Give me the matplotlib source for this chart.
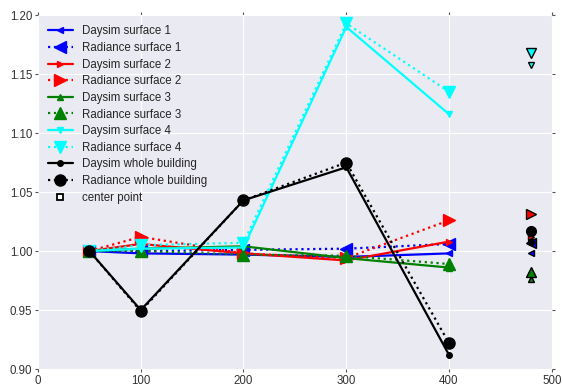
import matplotlib
matplotlib.use("Agg")
import matplotlib.pyplot as plt

# ── Data ──
X = [50, 100, 200, 300, 400]
CENTER_X = 480

daysim_s1 = [1.000, 0.998, 0.997, 0.995, 0.998]
radiance_s1 = [1.000, 1.000, 1.001, 1.002, 1.006]
daysim_s2 = [1.000, 1.006, 0.998, 0.992, 1.008]
radiance_s2 = [1.000, 1.012, 0.998, 0.994, 1.026]
daysim_s3 = [1.000, 1.002, 1.004, 0.994, 0.986]
radiance_s3 = [1.000, 1.000, 0.997, 0.996, 0.989]
daysim_s4 = [1.000, 1.002, 1.003, 1.190, 1.116]
radiance_s4 = [1.000, 1.005, 1.007, 1.193, 1.135]
daysim_wb = [1.000, 0.950, 1.043, 1.071, 0.912]
radiance_wb = [1.000, 0.949, 1.043, 1.075, 0.922]

# center point values (daysim, radiance)
center_s1 = (0.9986, 1.007)
center_s2 = (1.012, 1.031)
center_s3 = (0.976, 0.982)
center_s4 = (1.1576, 1.168)
center_wb = (1.008, 1.017)

plt.style.use("seaborn-v0_8-darkgrid")
plt.rcParams["font.family"] = ["Liberation Sans", "DejaVu Sans"]

fig = plt.figure(figsize=(5.63, 3.87), dpi=100)
ax = fig.add_axes([0.0675, 0.0465, 0.9125, 0.9145])

series = [
    ("surface 1", "#0000ff", "<", daysim_s1, radiance_s1, center_s1),
    ("surface 2", "#ff0000", ">", daysim_s2, radiance_s2, center_s2),
    ("surface 3", "#008000", "^", daysim_s3, radiance_s3, center_s3),
    ("surface 4", "#00ffff", "v", daysim_s4, radiance_s4, center_s4),
    ("whole building", "#000000", "o", daysim_wb, radiance_wb, center_wb),
]

for name, col, mk, dsim, rad, cen in series:
    ax.plot(X, dsim, color=col, marker=mk, ls="-", lw=1.6,
            ms=4, mec=col, label=f"Daysim {name}")
    ax.plot(X, rad, color=col, marker=mk, ls=":", lw=1.6,
            ms=8, mec=col, label=f"Radiance {name}")
    ax.plot(CENTER_X, cen[0], color=col, marker=mk, ls="none",
            ms=4.5, mec="k", mew=1)
    ax.plot(CENTER_X, cen[1], color=col, marker=mk, ls="none",
            ms=7, mec="k", mew=1)

ax.plot([], [], ls="none", marker="s", ms=4, mfc="w", mec="k", mew=1.3,
        label="center point")

ax.set_xlim(0, 500)
ax.set_ylim(0.90, 1.20)
ax.set_xticks([0, 100, 200, 300, 400, 500])
ax.set_yticks([0.90, 0.95, 1.00, 1.05, 1.10, 1.15, 1.20])
ax.set_yticklabels([f"{v:.2f}" for v in ax.get_yticks()])
ax.tick_params(which="both", direction="out", length=2, color="#555555",
               labelsize=8.3, top=True, right=True, labelcolor="#333333", pad=2)

ax.legend(loc="upper left", fontsize=8.3, frameon=False, numpoints=1,
          handlelength=2.1, labelspacing=0.4, borderaxespad=0.5)

fig.savefig("out.png", dpi=100)
